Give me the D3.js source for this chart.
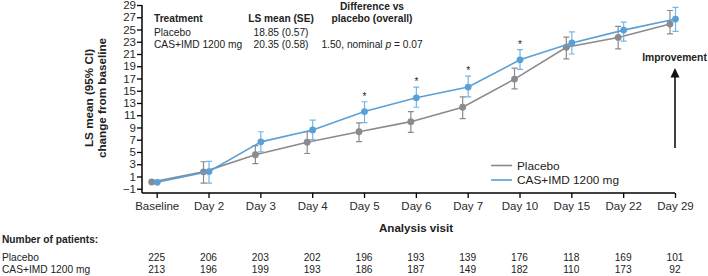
<!DOCTYPE html>
<html>
<head>
<meta charset="utf-8">
<script src="https://cdn.jsdelivr.net/npm/d3@7"></script>
<style>
  body { margin: 0; background: #fff; }
  svg { font-family: "Liberation Sans", Arial, sans-serif; }
</style>
</head>
<body>
<svg width="708" height="276"></svg>
<script>
// categories and values
var visits = ["Baseline", "Day 2", "Day 3", "Day 4", "Day 5", "Day 6", "Day 7", "Day 10", "Day 15", "Day 22", "Day 29"];
var placeboMean = [0.1, 1.75, 4.55, 6.6, 8.3, 9.95, 12.3, 16.9, 22.1, 23.7, 25.9];
var placeboLow  = [0.1, -0.1, 3.1, 4.75, 6.7, 8.2, 10.45, 15.3, 20.2, 21.85, 24.3];
var placeboHigh = [0.1, 3.4, 6.05, 8.3, 9.75, 11.6, 14.0, 18.7, 23.75, 25.5, 28.1];
var casMean = [0.05, 1.8, 6.65, 8.6, 11.6, 13.85, 15.6, 20.05, 22.8, 24.9, 26.7];
var casLow  = [0.05, -0.1, 5.0, 7.0, 9.8, 12.3, 14.0, 18.5, 21.0, 23.1, 24.7];
var casHigh = [0.05, 3.45, 8.3, 10.2, 13.2, 15.6, 17.4, 21.7, 24.6, 26.2, 28.6];
var starred = ["Day 5", "Day 6", "Day 7", "Day 10"];
var yTicks = [-1, 1, 3, 5, 7, 9, 11, 13, 15, 17, 19, 21, 23, 25, 27, 29];
var nPlacebo = [225, 206, 203, 202, 196, 193, 139, 176, 118, 169, 101];
var nCas = [213, 196, 199, 193, 186, 187, 149, 182, 110, 173, 92];

var grey = "#8b8a8e", blue = "#5aa0d6", blueBar = "#74b6e4";

var svg = d3.select("svg");

var x = d3.scalePoint().domain(visits).range([156.7, 675]);
var y = d3.scaleLinear().domain([-1.7, 29]).range([193, 5]);

// axes
var yAxis = svg.append("g")
    .attr("transform", "translate(142,0)")
    .call(d3.axisLeft(y).tickValues(yTicks).tickSize(5).tickSizeOuter(0));
yAxis.select(".domain").remove();
yAxis.append("line").attr("x1", 0).attr("x2", 0).attr("y1", y(29)).attr("y2", 193)
    .attr("stroke", "#000").attr("stroke-width", 1.5);
yAxis.selectAll(".tick line").attr("stroke-width", 1.3);
yAxis.selectAll(".tick text").attr("font-size", 11.5).attr("fill", "#2a2a2a").attr("x", -6);

var xAxis = svg.append("g")
    .attr("transform", "translate(0,193)")
    .call(d3.axisBottom(x).tickSize(5).tickSizeOuter(0));
xAxis.select(".domain").remove();
xAxis.append("line").attr("x1", 142).attr("x2", 675).attr("y1", 0).attr("y2", 0)
    .attr("stroke", "#000").attr("stroke-width", 1.5);
xAxis.selectAll(".tick line").attr("stroke-width", 1.3);
xAxis.selectAll(".tick text").attr("font-size", 11.5).attr("fill", "#2a2a2a").attr("y", 9);

// axis titles
svg.append("text")
    .attr("transform", "translate(93,98) rotate(-90)")
    .attr("text-anchor", "middle").attr("font-size", 11.7).attr("font-weight", "bold")
    .attr("fill", "#222").text("LS mean (95% CI)");
svg.append("text")
    .attr("transform", "translate(106,98) rotate(-90)")
    .attr("text-anchor", "middle").attr("font-size", 11.7).attr("font-weight", "bold")
    .attr("fill", "#222").text("change from baseline");
svg.append("text")
    .attr("x", 416).attr("y", 232).attr("text-anchor", "middle")
    .attr("font-size", 11.6).attr("font-weight", "bold").attr("fill", "#222")
    .text("Analysis visit");

// series
function drawSeries(mean, low, high, color, barColor, dx) {
  var g = svg.append("g");
  var pts = visits.map(function(v, i) {
    return {v: v, m: mean[i], lo: low[i], hi: high[i]};
  });
  var bars = pts.filter(function(d, i) { return i > 0; });
  g.selectAll(".eb").data(bars).enter().append("path")
      .attr("fill", "none").attr("stroke", barColor).attr("stroke-width", 1.2)
      .attr("d", function(d) {
        var cx = x(d.v) + dx;
        return "M" + cx + "," + y(d.lo) + "V" + y(d.hi) +
               "M" + (cx - 3) + "," + y(d.lo) + "H" + (cx + 3) +
               "M" + (cx - 3) + "," + y(d.hi) + "H" + (cx + 3);
      });
  g.append("path").datum(pts)
      .attr("fill", "none").attr("stroke", color).attr("stroke-width", 1.6)
      .attr("d", d3.line().x(function(d) { return x(d.v) + dx; }).y(function(d) { return y(d.m); }));
  g.selectAll("circle").data(pts).enter().append("circle")
      .attr("cx", function(d) { return x(d.v) + dx; })
      .attr("cy", function(d) { return y(d.m); })
      .attr("r", 3.4).attr("fill", color);
}
drawSeries(placeboMean, placeboLow, placeboHigh, grey, grey, -5);
drawSeries(casMean, casLow, casHigh, blue, blueBar, 0.5);

// significance markers
svg.selectAll(".star").data(starred).enter().append("text")
    .attr("x", function(d) { return x(d) + 0.5; })
    .attr("y", function(d) { return y(casHigh[visits.indexOf(d)]) - 2; })
    .attr("text-anchor", "middle").attr("font-size", 10).attr("fill", "#222")
    .text("*");

// improvement arrow
svg.append("line").attr("x1", 675).attr("x2", 675).attr("y1", 148).attr("y2", 74)
    .attr("stroke", "#111").attr("stroke-width", 1.6);
svg.append("path").attr("d", "M675,68L679.5,77.5H670.5Z").attr("fill", "#111");
svg.append("text").attr("x", 674.5).attr("y", 60.5).attr("text-anchor", "middle")
    .attr("font-size", 10.3).attr("font-weight", "bold").attr("fill", "#222").text("Improvement");

// legend
var legend = [["Placebo", grey], ["CAS+IMD 1200 mg", blue]];
legend.forEach(function(l, i) {
  var ly = 165.5 + i * 14.5;
  svg.append("line").attr("x1", 491).attr("x2", 512).attr("y1", ly).attr("y2", ly)
      .attr("stroke", l[1]).attr("stroke-width", 1.6);
  svg.append("text").attr("x", 517).attr("y", ly + 4.3)
      .attr("font-size", 11.8).attr("fill", "#222").text(l[0]);
});

// summary table
var tbl = svg.append("g").attr("font-size", 10.2).attr("fill", "#222");
tbl.append("text").attr("x", 154).attr("y", 22).attr("font-weight", "bold").text("Treatment");
tbl.append("text").attr("x", 281).attr("y", 22).attr("text-anchor", "middle").attr("font-weight", "bold").text("LS mean (SE)");
tbl.append("text").attr("x", 372).attr("y", 10).attr("text-anchor", "middle").attr("font-weight", "bold").text("Difference vs");
tbl.append("text").attr("x", 372).attr("y", 22).attr("text-anchor", "middle").attr("font-weight", "bold").text("placebo (overall)");
tbl.append("text").attr("x", 154).attr("y", 36).text("Placebo");
tbl.append("text").attr("x", 281).attr("y", 36).attr("text-anchor", "middle").text("18.85 (0.57)");
tbl.append("text").attr("x", 154).attr("y", 48).text("CAS+IMD 1200 mg");
tbl.append("text").attr("x", 281).attr("y", 48).attr("text-anchor", "middle").text("20.35 (0.58)");
var diff = tbl.append("text").attr("x", 372).attr("y", 48).attr("text-anchor", "middle");
diff.append("tspan").text("1.50, nominal ");
diff.append("tspan").attr("font-style", "italic").text("p");
diff.append("tspan").text(" = 0.07");

// number of patients
var np = svg.append("g").attr("font-size", 10.2).attr("fill", "#222");
np.append("text").attr("x", 2).attr("y", 243).attr("font-weight", "bold").text("Number of patients:");
np.append("text").attr("x", 2).attr("y", 260.5).text("Placebo");
np.append("text").attr("x", 2).attr("y", 273).text("CAS+IMD 1200 mg");
np.selectAll(".np").data(nPlacebo).enter().append("text")
    .attr("x", function(d, i) { return x(visits[i]); }).attr("y", 260.5)
    .attr("text-anchor", "middle").text(function(d) { return d; });
np.selectAll(".nc").data(nCas).enter().append("text")
    .attr("x", function(d, i) { return x(visits[i]); }).attr("y", 273)
    .attr("text-anchor", "middle").text(function(d) { return d; });
</script>
</body>
</html>
